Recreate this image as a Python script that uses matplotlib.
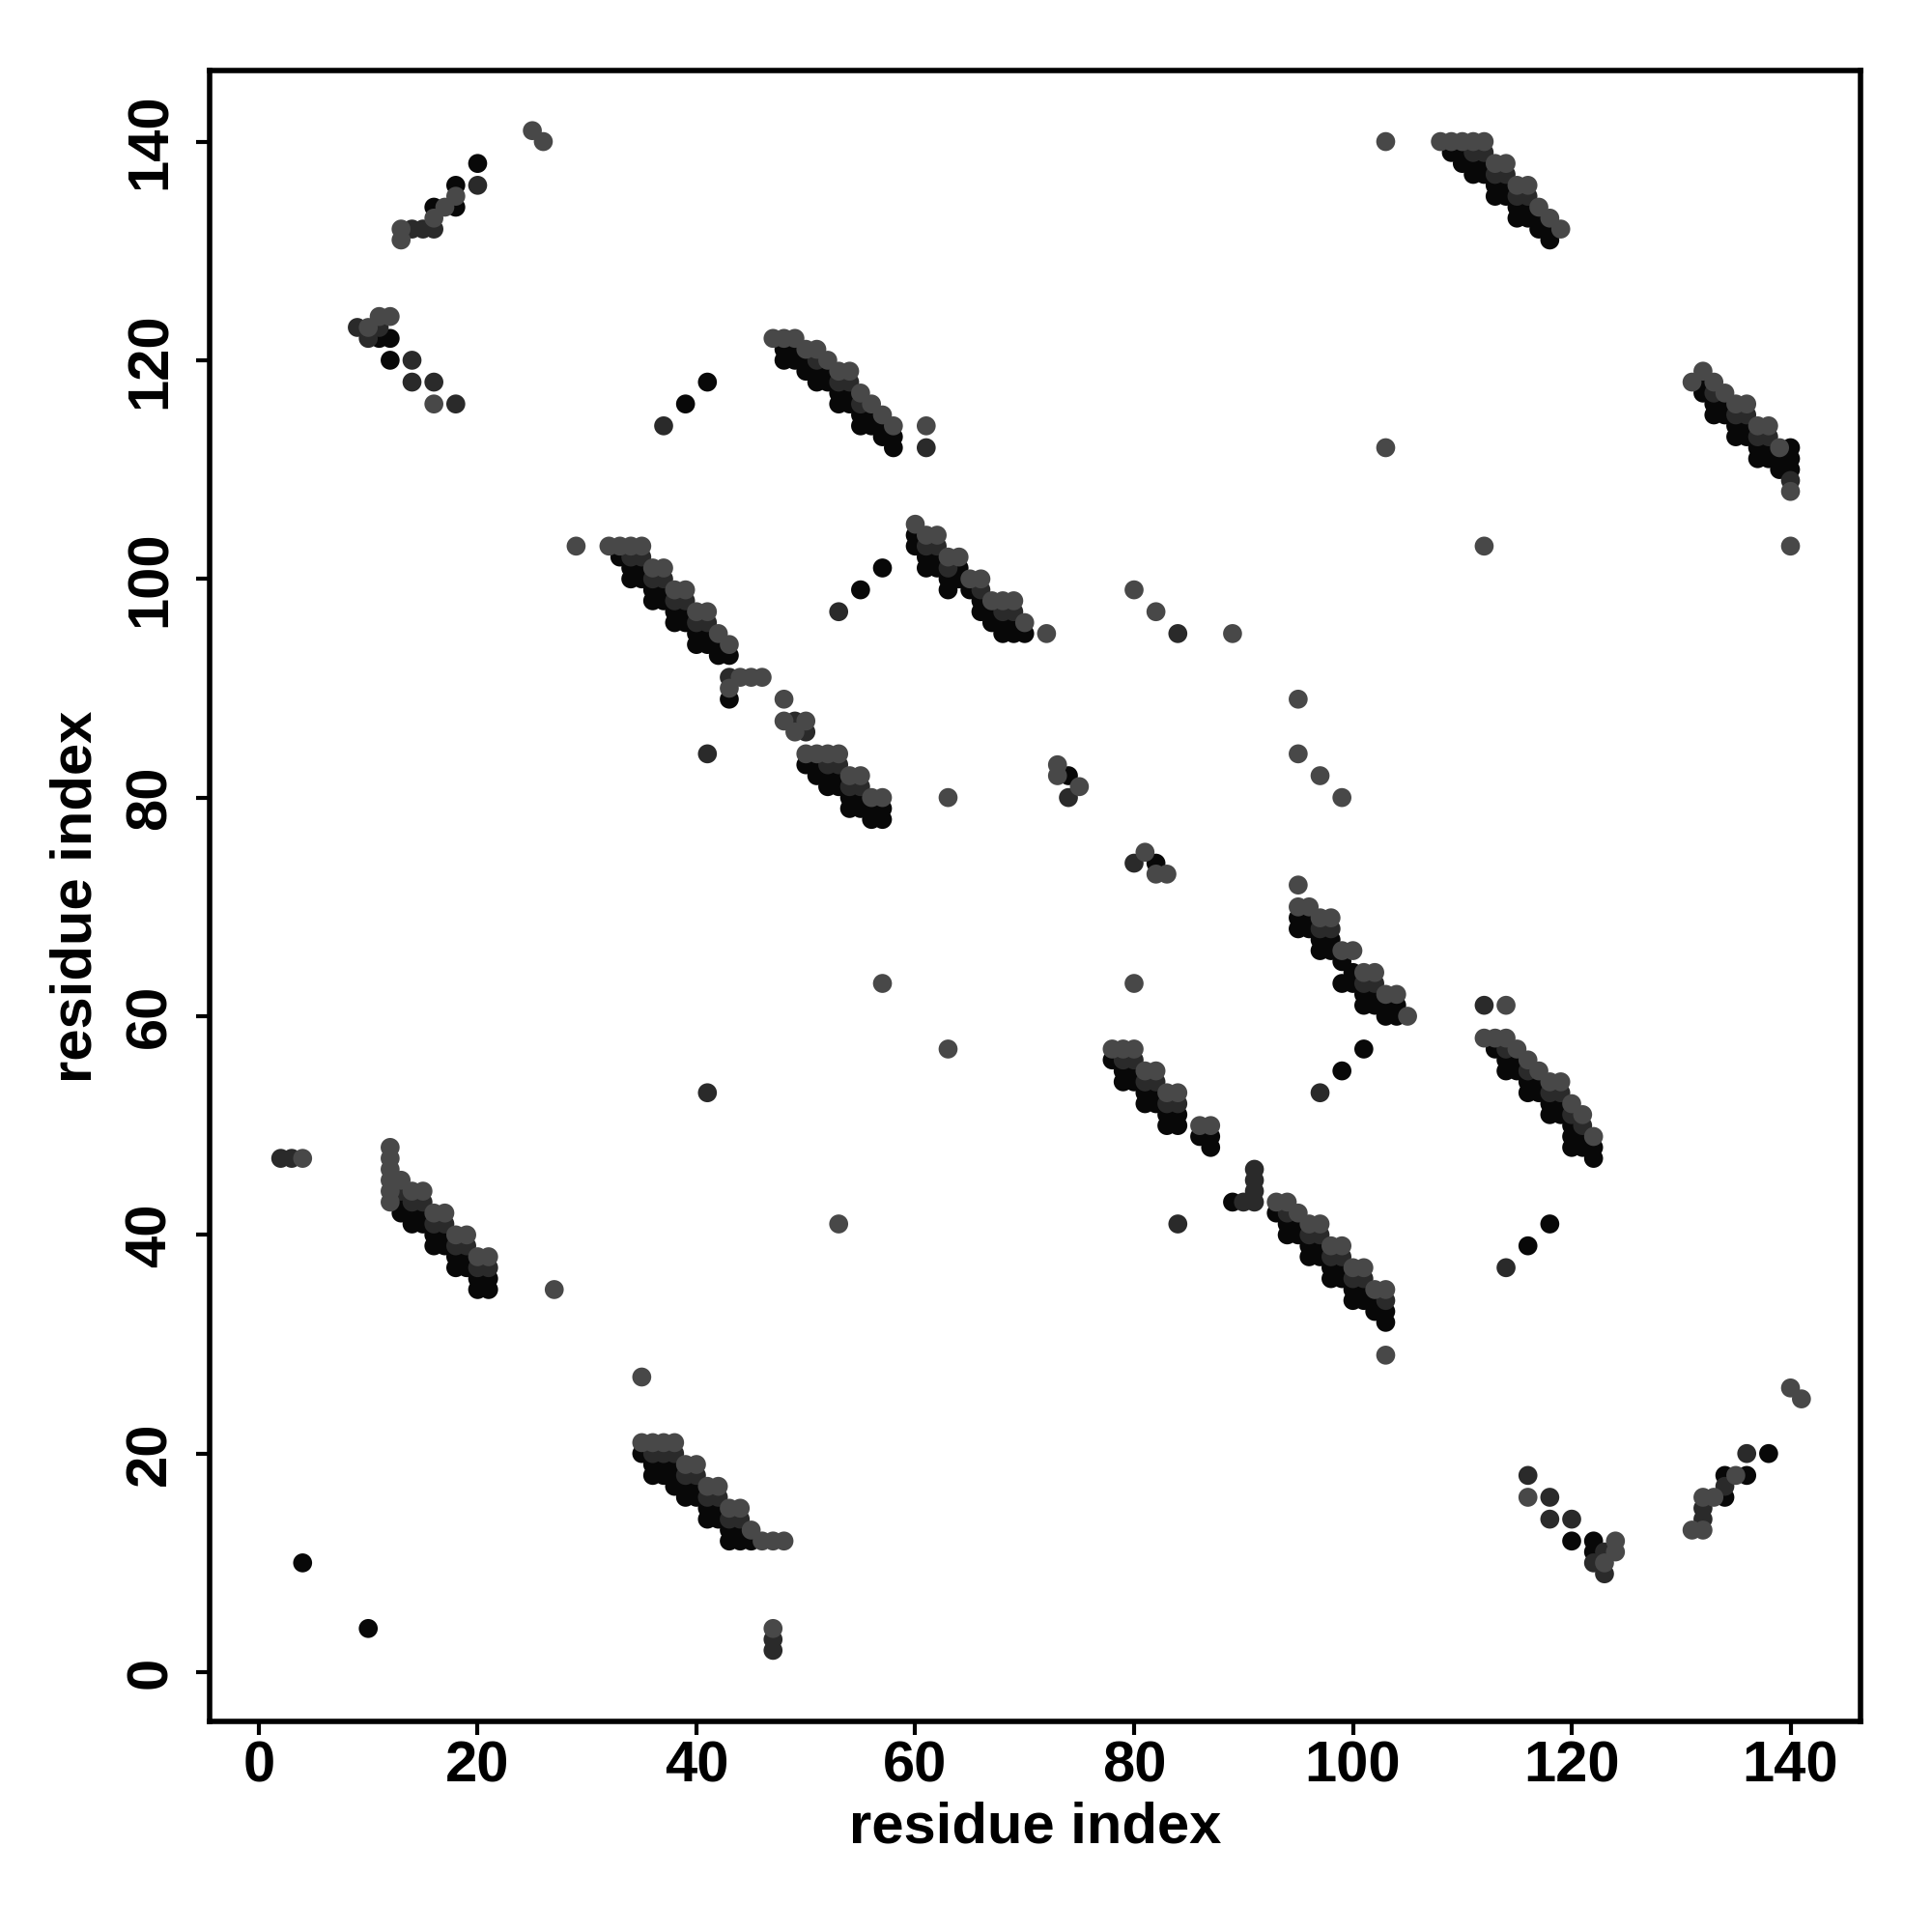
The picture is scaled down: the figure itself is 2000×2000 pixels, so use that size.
import matplotlib
matplotlib.use("Agg")
import matplotlib.pyplot as plt

# ---- data: contact-map bands (x -> list of y), lower y values are stronger ----
band_1 = {47: [122], 48: [122, 121, 120], 49: [122, 121, 120], 50: [121, 120, 119],
          51: [121, 120, 119, 118], 52: [120, 119, 118], 53: [119, 118, 117, 116],
          54: [119, 118, 117, 116], 55: [117, 116, 115, 114], 56: [116, 115, 114],
          57: [115, 114, 113], 58: [114, 113, 112]}
band_2 = {32: [103], 33: [103, 102], 34: [103, 102, 101, 100], 35: [103, 102, 101, 100],
          36: [101, 100, 99, 98], 37: [101, 100, 99, 98], 38: [99, 98, 97, 96],
          39: [99, 98, 97, 96], 40: [97, 96, 95, 94], 41: [97, 96, 95, 94],
          42: [95, 94, 93], 43: [94, 93]}
band_3 = {50: [84, 83], 51: [84, 83, 82], 52: [84, 83, 82, 81], 53: [84, 83, 82, 81],
          54: [82, 81, 80, 79], 55: [82, 81, 80, 79], 56: [80, 79, 78], 57: [80, 79, 78]}
band_4 = {60: [105, 104, 103], 61: [104, 103, 102, 101], 62: [104, 103, 102, 101],
          63: [102, 101, 100, 99], 64: [102, 101, 100], 65: [100, 99],
          66: [100, 99, 98, 97], 67: [98, 97, 96], 68: [98, 97, 96, 95],
          69: [98, 97, 96, 95], 70: [96, 95]}
band_5 = {95: [70, 69, 68], 96: [70, 69, 68], 97: [69, 68, 67, 66], 98: [69, 68, 67, 66],
          99: [66, 65, 63], 100: [66, 64, 63], 101: [64, 63, 62, 61], 102: [64, 63, 62, 61],
          103: [62, 61, 60], 104: [62, 61, 60], 105: [60]}
band_6 = {78: [57, 56], 79: [57, 56, 55, 54], 80: [57, 56, 55, 54], 81: [55, 54, 53, 52],
          82: [55, 54, 53, 52], 83: [53, 52, 51, 50], 84: [53, 52, 51, 50],
          86: [50, 49], 87: [50, 49, 48]}
band_7 = {93: [43, 42], 94: [43, 42, 41, 40], 95: [42, 41, 40], 96: [41, 40, 39, 38],
          97: [41, 40, 39, 38], 98: [39, 38, 37, 36], 99: [39, 38, 37, 36],
          100: [37, 36, 35, 34], 101: [37, 36, 35, 34], 102: [35, 34, 33],
          103: [35, 34, 33, 32]}
band_8 = {112: [58], 113: [58, 57], 114: [58, 57, 56, 55], 115: [57, 56, 55],
          116: [56, 55, 54, 53], 117: [55, 54, 53], 118: [54, 53, 52, 51],
          119: [54, 53, 52, 51], 120: [52, 51, 50, 49, 48], 121: [51, 50, 49, 48],
          122: [49, 48, 47]}
band_9 = {13: [45, 44, 43, 42], 14: [44, 43, 42, 41], 15: [44, 43, 42, 41],
          16: [42, 41, 40, 39], 17: [42, 41, 40, 39], 18: [40, 39, 38, 37],
          19: [40, 39, 38, 37], 20: [38, 37, 36, 35], 21: [38, 37, 36, 35]}
band_10 = {35: [21, 20], 36: [21, 20, 19, 18], 37: [21, 20, 19, 18], 38: [21, 20, 19, 18, 17],
           39: [19, 18, 17, 16], 40: [19, 18, 17, 16], 41: [17, 16, 15, 14],
           42: [17, 16, 15, 14], 43: [15, 14, 13, 12], 44: [15, 14, 13, 12],
           45: [13, 12]}
band_11 = {108: [140], 109: [140, 139], 110: [140, 139, 138], 111: [140, 139, 138, 137],
           112: [140, 139, 138, 137], 113: [138, 137, 136, 135], 114: [138, 137, 136, 135],
           115: [136, 135, 134, 133], 116: [136, 135, 134, 133], 117: [134, 133, 132],
           118: [133, 132, 131], 119: [132]}
band_12 = {131: [118], 132: [119, 118, 117], 133: [118, 117, 116, 115], 134: [117, 116, 115],
           135: [116, 115, 114, 113], 136: [116, 115, 114, 113], 137: [114, 113, 112, 111],
           138: [114, 113, 112, 111], 139: [112, 111, 110]}
bands = [band_1, band_2, band_3, band_4, band_5, band_6, band_7, band_8,
         band_9, band_10, band_11, band_12]

# ---- isolated contacts: x, y, strength (0 weak, 1 medium, 2 strong) ----
iso_x = [13, 13, 14, 15, 16, 16, 16, 17, 18, 18, 18, 20, 20, 25, 26,
         9, 10, 10, 11, 11, 11, 12, 12, 12, 14, 14, 16, 16, 18,
         37, 39, 41, 61, 61, 29,
         43, 44, 45, 46, 43, 43, 48, 48, 49, 50, 49, 50, 41,
         53, 55, 57, 63, 63, 57, 41, 53,
         72, 80, 82, 84, 89, 95, 95, 97, 99,
         73, 73, 74, 75, 74, 81, 80, 82, 82, 83, 80, 95,
         97, 99, 101, 112, 114, 114, 116, 118,
         84, 89, 90, 91, 91, 91, 91, 103,
         2, 3, 4, 27, 35, 4, 10, 47, 47, 47,
         103, 103, 112, 140, 140, 140, 140, 140, 140,
         140, 141, 136, 138, 134, 135, 136, 134, 134, 132, 133, 132, 132, 132, 131,
         116, 116, 118, 118, 120, 120, 122, 124, 122, 123, 124, 122, 123, 123,
         12, 12, 12, 12, 12, 12, 46, 47, 48]
iso_y = [131, 132, 132, 132, 132, 133, 134, 134, 134, 135, 136, 136, 138, 141, 140,
         123, 123, 122, 124, 123, 122, 124, 122, 120, 120, 118, 118, 116, 116,
         114, 116, 118, 114, 112, 103,
         91, 91, 91, 91, 90, 89, 89, 87, 87, 87, 86, 86, 84,
         97, 99, 101, 80, 57, 63, 53, 41,
         95, 99, 97, 95, 95, 89, 84, 82, 80,
         83, 82, 82, 81, 80, 75, 74, 74, 73, 73, 63, 72,
         53, 55, 57, 61, 61, 37, 39, 41,
         41, 43, 43, 43, 44, 45, 46, 29,
         47, 47, 47, 35, 27, 10, 4, 4, 3, 2,
         140, 112, 103, 103, 112, 111, 110, 109, 108,
         26, 25, 20, 20, 18, 18, 18, 17, 16, 16, 16, 15, 14, 13, 13,
         18, 16, 16, 14, 14, 12, 12, 12, 11, 11, 11, 10, 10, 9,
         48, 47, 46, 45, 44, 43, 12, 12, 12]
iso_s = [0, 0, 1, 1, 1, 0, 2, 0, 2, 0, 2, 1, 2, 0, 0,
         1, 0, 1, 0, 1, 2, 0, 2, 2, 1, 1, 1, 0, 1,
         1, 2, 2, 0, 1, 0,
         1, 0, 0, 0, 0, 2, 0, 0, 1, 0, 0, 1, 1,
         1, 2, 2, 0, 0, 0, 1, 0,
         0, 0, 0, 1, 0, 0, 0, 0, 0,
         0, 0, 2, 0, 1, 0, 1, 2, 0, 0, 0, 0,
         1, 2, 2, 1, 0, 1, 2, 2,
         1, 2, 1, 1, 1, 1, 1, 0,
         1, 1, 0, 0, 0, 2, 2, 0, 1, 1,
         0, 0, 0, 0, 2, 2, 2, 1, 0,
         0, 0, 1, 2, 2, 0, 2, 1, 2, 0, 0, 1, 1, 0, 0,
         1, 0, 1, 1, 1, 2, 2, 0, 2, 1, 0, 1, 0, 1,
         0, 0, 0, 0, 0, 0, 0, 0, 0]

ticks = [0, 20, 40, 60, 80, 100, 120, 140]
axis_label = "residue index"
shades = {0: "#484848", 1: "#2a2a2a", 2: "#080808"}

# ---- assemble points per strength ----
pts = {0: ([], []), 1: ([], []), 2: ([], [])}
for band in bands:
    for x, ys in band.items():
        ys_sorted = sorted(ys, reverse=True)
        n = len(ys_sorted)
        for i, y in enumerate(ys_sorted):
            if i == 0:
                s = 0
            elif i == 1 and n >= 4:
                s = 1
            else:
                s = 2
            pts[s][0].append(x)
            pts[s][1].append(y)
for x, y, s in zip(iso_x, iso_y, iso_s):
    pts[s][0].append(x)
    pts[s][1].append(y)

font = "Liberation Sans"
fig = plt.figure(figsize=(10, 10), dpi=200)
ax = fig.add_axes([0.1085, 0.109, 0.8545, 0.8545])
for s in (2, 1, 0):
    ax.scatter(pts[s][0], pts[s][1], s=50, c=shades[s], edgecolors="none", zorder=2 + (2 - s))

ax.set_xlim(-4.5, 146.4)
ax.set_ylim(-4.5, 146.5)
ax.set_xticks(ticks)
ax.set_yticks(ticks)
ax.set_xticklabels([str(t) for t in ticks], fontfamily=font, fontweight="bold", fontsize=21.5)
ax.set_yticklabels([str(t) for t in ticks], fontfamily=font, fontweight="bold", fontsize=21.5,
                   rotation=90, va="center")
ax.tick_params(axis="both", direction="out", length=5, width=1.5, color="black")
ax.tick_params(axis="x", pad=2)
ax.tick_params(axis="y", pad=7)
for sp in ax.spines.values():
    sp.set_linewidth(2.0)

fig.text(0.5358, 0.054, axis_label, ha="center", va="center", fontfamily=font,
         fontweight="bold", fontsize=21.5)
fig.text(0.0395, 0.536, axis_label, ha="center", va="center", rotation=90, fontfamily=font,
         fontweight="bold", fontsize=21.5)

fig.savefig("out.png", dpi=200, facecolor="white")
